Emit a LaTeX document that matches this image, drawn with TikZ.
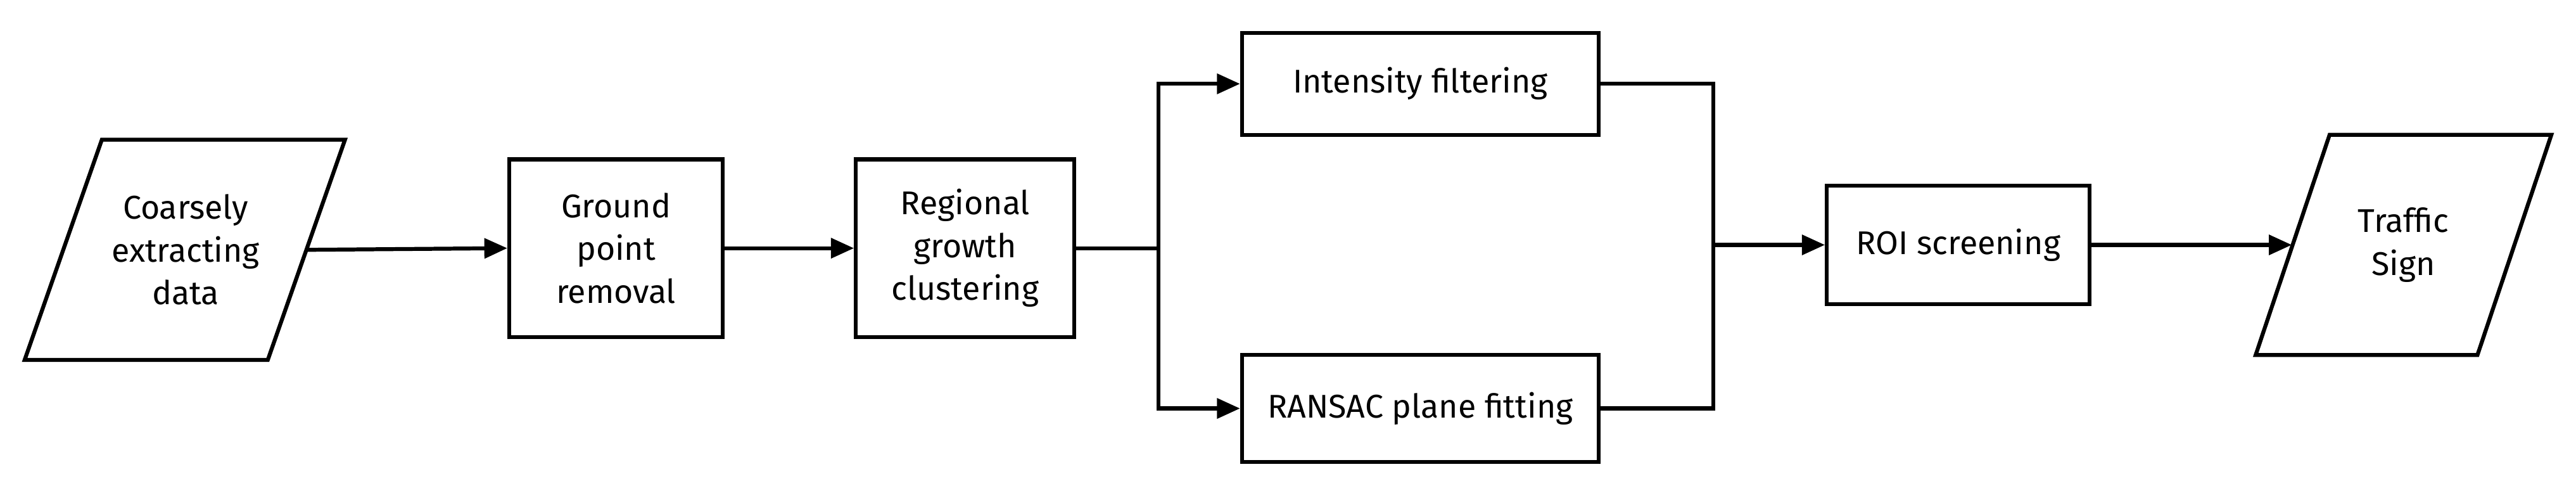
\documentclass[tikz,border=0pt]{standalone}
\usepackage{fontspec}
\setmainfont{Fira Sans}
\usetikzlibrary{arrows.meta}
\begin{document}
\begin{tikzpicture}[x=1pt,y=-1pt,
  box/.style={draw,line width=2.4pt,align=center,font=\fontsize{20}{26}\selectfont,inner sep=0pt},
  para/.style={align=center,font=\fontsize{20}{26}\selectfont,inner sep=0pt},
  ln/.style={line width=2.4pt},
  arr/.style={ln,-{Triangle[length=14pt,width=12pt]}}]
\useasboundingbox (0,0) rectangle (1568,299.6);
\node[para] (src) at (113,152) {Coarsely\\extracting\\data};
\draw[ln,line join=miter] (62,85) -- (210,85) -- (163,219) -- (15,219) -- cycle;
\node[box,minimum width=130pt,minimum height=108pt] (gpr) at (375,151) {Ground\\point\\removal};
\node[box,minimum width=133pt,minimum height=108pt] (rgc) at (587.5,151) {Regional\\growth\\clustering};
\node[box,minimum width=217pt,minimum height=62pt] (int) at (864.5,51) {Intensity filtering};
\node[box,minimum width=217pt,minimum height=65pt] (ran) at (864.5,248.5) {RANSAC plane fitting};
\node[box,minimum width=160pt,minimum height=72pt] (roi) at (1192,149) {ROI screening};
\node[para] (ts) at (1463,149) {Traffic\\Sign};
\draw[ln,line join=miter] (1418,82) -- (1553,82) -- (1508,216) -- (1373,216) -- cycle;
\coordinate (s1) at (187,152);
\coordinate (t1) at (1395,149);
\coordinate (sp) at (705,151);
\coordinate (mg) at (1043,149);
\draw[arr] (s1) -- (gpr.west);
\draw[arr] (gpr.east) -- (rgc.west);
\draw[ln] (rgc.east) -- (sp);
\draw[arr] (sp) |- (int.west);
\draw[arr] (sp) |- (ran.west);
\draw[ln] (int.east) -| (mg);
\draw[ln] (ran.east) -| (mg);
\draw[arr] (mg) -- (roi.west);
\draw[arr] (roi.east) -- (t1);
\end{tikzpicture}
\end{document}
